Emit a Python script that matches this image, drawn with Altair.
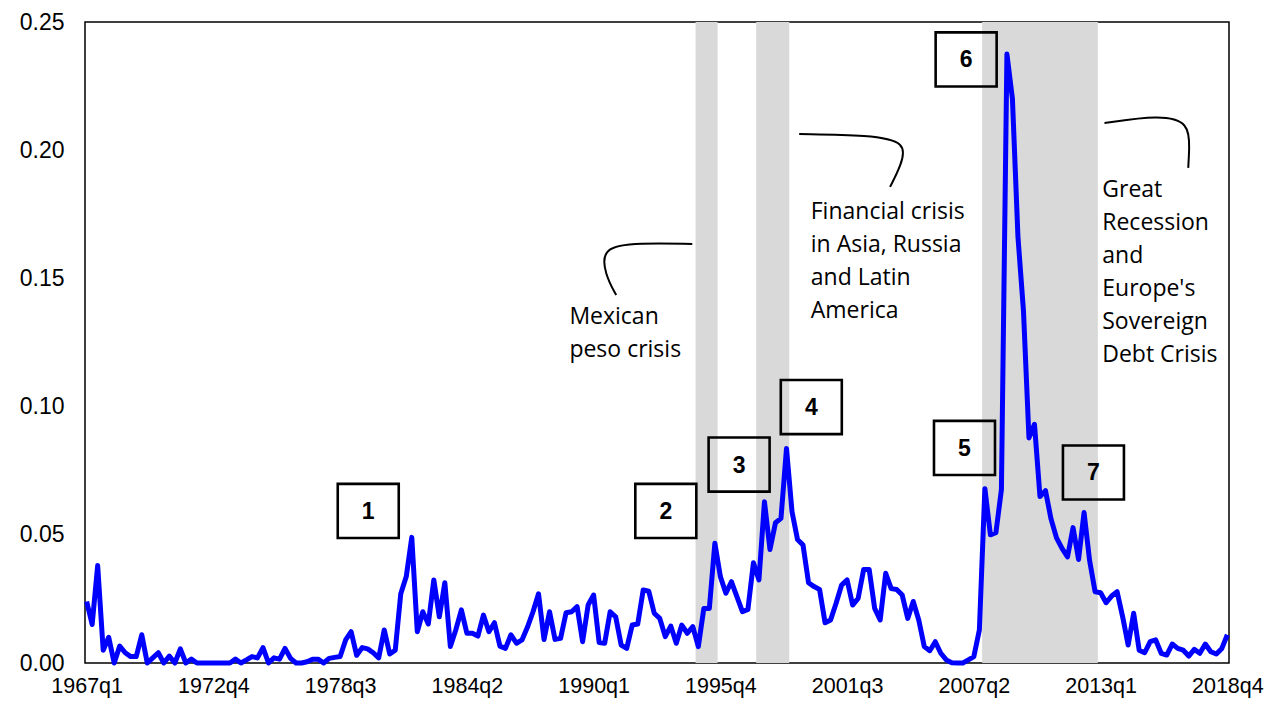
import altair as alt
import pandas as pd

# ---- data: quarterly series 1967q1 .. 2018q4 (208 quarters) ----
values = [
    0.024, 0.015, 0.038, 0.005, 0.010, 0.0, 0.0066, 0.004, 0.0025, 0.0025,
    0.011, 0.0, 0.002, 0.004, 0.0, 0.0027, 0.0, 0.0055, 0.0, 0.0015,
    0.0, 0.0, 0.0, 0.0, 0.0, 0.0, 0.0, 0.0015, 0.0, 0.0012,
    0.0025, 0.002, 0.006, 0.0, 0.002, 0.0015, 0.0057, 0.0018, 0.0, 0.0,
    0.0005, 0.0015, 0.0015, 0.0, 0.0018, 0.0022, 0.0025, 0.009, 0.0122, 0.003,
    0.006, 0.0055, 0.004, 0.002, 0.0129, 0.0035, 0.005, 0.027, 0.0337, 0.049,
    0.0122, 0.020, 0.0152, 0.0324, 0.018, 0.0313, 0.0064, 0.013, 0.0207, 0.0116,
    0.0116, 0.0105, 0.0187, 0.0122, 0.0157, 0.0066, 0.0057, 0.011, 0.0077, 0.009,
    0.014, 0.020, 0.027, 0.0092, 0.020, 0.0092, 0.0096, 0.0196, 0.020, 0.022,
    0.0083, 0.0226, 0.0265, 0.008, 0.0077, 0.020, 0.018, 0.007, 0.0057, 0.0148,
    0.0152, 0.0285, 0.028, 0.0194, 0.0174, 0.0103, 0.0144, 0.0077, 0.0148, 0.0116,
    0.0142, 0.0064, 0.0213, 0.0213, 0.0467, 0.0337, 0.0272, 0.0317, 0.0259, 0.020,
    0.0209, 0.0391, 0.0324, 0.0629, 0.0443, 0.0547, 0.0564, 0.0837, 0.059, 0.0482,
    0.046, 0.0313, 0.0298, 0.0287, 0.0157, 0.0168, 0.0233, 0.0304, 0.0324, 0.0226,
    0.0252, 0.0365, 0.0365, 0.0213, 0.0168, 0.035, 0.029, 0.0287, 0.0265, 0.0174,
    0.024, 0.0168, 0.0064, 0.0048, 0.0083, 0.0038, 0.0012, 0.0001, 0.0, 0.0,
    0.0012, 0.0025, 0.0129, 0.068, 0.050, 0.0508, 0.0676, 0.2375, 0.220, 0.1663,
    0.1374, 0.0878, 0.0931, 0.0649, 0.0672, 0.0562, 0.0488, 0.0447, 0.0414, 0.0528,
    0.0404, 0.0587, 0.040, 0.0278, 0.0274, 0.0235, 0.0261, 0.0278, 0.018, 0.007,
    0.0194, 0.005, 0.004, 0.0083, 0.009, 0.0038, 0.0031, 0.0074, 0.0057, 0.005,
    0.0027, 0.0053, 0.0038, 0.0074, 0.0044, 0.0035, 0.0057, 0.011,
]
quarters = [f"{1967 + i // 4}q{i % 4 + 1}" for i in range(len(values))]

# x-axis tick labels (every 23 quarters)
tick_labels = ["1967q1", "1972q4", "1978q3", "1984q2", "1990q1",
               "1995q4", "2001q3", "2007q2", "2013q1", "2018q4"]
y_ticks = [0.0, 0.05, 0.10, 0.15, 0.20, 0.25]

# shaded crisis periods
shade_start = ["1994q4", "1997q3", "2007q4"]
shade_end = ["1995q3", "1998q4", "2012q4"]

# numbered boxes (centre in quarter-index / value units)
box_label = ["1", "2", "3", "4", "5", "6", "7"]
box_x = [51.1, 105.1, 118.4, 131.5, 159.3, 159.6, 182.7]
box_y = [0.0593, 0.0593, 0.0774, 0.0998, 0.0839, 0.2354, 0.0743]

# crisis texts
note_text = ["Mexican\npeso crisis",
             "Financial crisis\nin Asia, Russia\nand Latin\nAmerica",
             "Great\nRecession\nand\nEurope's\nSovereign\nDebt Crisis"]
note_x = [87.6, 131.4, 184.3]
note_y = [0.1322, 0.1731, 0.1819]

# connector curves
curve_group = ["a"] * 5 + ["b"] * 5 + ["c"] * 5
curve_x = [109.9, 100.3, 93.4, 94.1, 96.1,
           129.3, 142.0, 148.9, 147.8, 145.8,
           184.7, 194.7, 200.1, 200.1, 199.9]
curve_y = [0.1634, 0.1638, 0.1623, 0.1513, 0.1435,
           0.2063, 0.2059, 0.2032, 0.1942, 0.1857,
           0.2106, 0.2137, 0.2110, 0.2001, 0.1931]

# ---- tables ----
df = pd.DataFrame({"t": list(range(len(values))), "v": values, "q": quarters})
shade_df = pd.DataFrame({
    "s": [quarters.index(s) - 0.5 for s in shade_start],
    "e": [quarters.index(e) + 0.5 for e in shade_end],
})
box_df = pd.DataFrame({"lab": box_label, "bx": box_x, "by": box_y})
note_df = pd.DataFrame({"txt": note_text, "nx": note_x, "ny": note_y})
curve_df = pd.DataFrame({"g": curve_group, "cx": curve_x, "cy": curve_y,
                         "o": list(range(len(curve_x)))})

W, H = 1144, 641
xscale = alt.Scale(domain=[-0.3, 207.3], nice=False, zero=False)
yscale = alt.Scale(domain=[0, 0.25], nice=False)

tick_vals = [quarters.index(t) for t in tick_labels]
label_expr = "floor(datum.value/4) + 1967 + 'q' + (datum.value % 4 + 1)"

shade = alt.Chart(shade_df).mark_rect(color="#d9d9d9").encode(
    x=alt.X("s:Q", scale=xscale),
    x2="e:Q",
    y=alt.value(0),
    y2=alt.value(H),
)

line = alt.Chart(df).mark_line(color="#0000ff", strokeWidth=5,
                               strokeJoin="round").encode(
    x=alt.X("t:Q", scale=xscale, title=None,
            axis=alt.Axis(values=tick_vals, labelExpr=label_expr, ticks=False,
                          domain=False, grid=False, labelPadding=12,
                          labelFontSize=21.5, labelFont="Liberation Sans",
                          labelColor="black", labelFlush=False)),
    y=alt.Y("v:Q", scale=yscale, title=None,
            axis=alt.Axis(values=y_ticks, format=".2f", ticks=False,
                          domain=False, grid=False, labelPadding=21,
                          labelFontSize=23, labelFont="Liberation Sans",
                          labelColor="black")),
)

BW, BH = 11.07, 0.0211
boxes = alt.Chart(box_df).transform_calculate(
    x1=f"datum.bx - {BW/2}", x2=f"datum.bx + {BW/2}",
    y1=f"datum.by - {BH/2}", y2=f"datum.by + {BH/2}",
).mark_rect(fill=None, stroke="black", strokeWidth=2.6).encode(
    x=alt.X("x1:Q", scale=xscale), x2="x2:Q",
    y=alt.Y("y1:Q", scale=yscale), y2="y2:Q",
)
box_text = alt.Chart(box_df).mark_text(
    font="Liberation Sans", fontSize=23, fontWeight="bold", color="black",
    align="center", baseline="middle", dy=1,
).encode(
    x=alt.X("bx:Q", scale=xscale), y=alt.Y("by:Q", scale=yscale), text="lab:N"
)

notes = alt.Chart(note_df).mark_text(
    font="Open Sans", fontSize=23, color="black", align="left",
    baseline="alphabetic", lineBreak="\n", lineHeight=33,
).encode(
    x=alt.X("nx:Q", scale=xscale), y=alt.Y("ny:Q", scale=yscale), text="txt:N"
)

curves = alt.Chart(curve_df).mark_line(
    color="black", strokeWidth=2, interpolate="basis"
).encode(
    x=alt.X("cx:Q", scale=xscale), y=alt.Y("cy:Q", scale=yscale),
    detail="g:N", order="o:Q",
)

chart = alt.layer(shade, line, boxes, box_text, notes, curves).properties(
    width=W, height=H,
    autosize=alt.AutoSizeParams(type="none"),
    padding={"left": 77, "top": 14, "right": 35, "bottom": 35},
    background="white",
).configure_view(stroke="black", strokeWidth=1.5)

chart.save("out.html", embed_options={"renderer": "svg", "actions": False})
